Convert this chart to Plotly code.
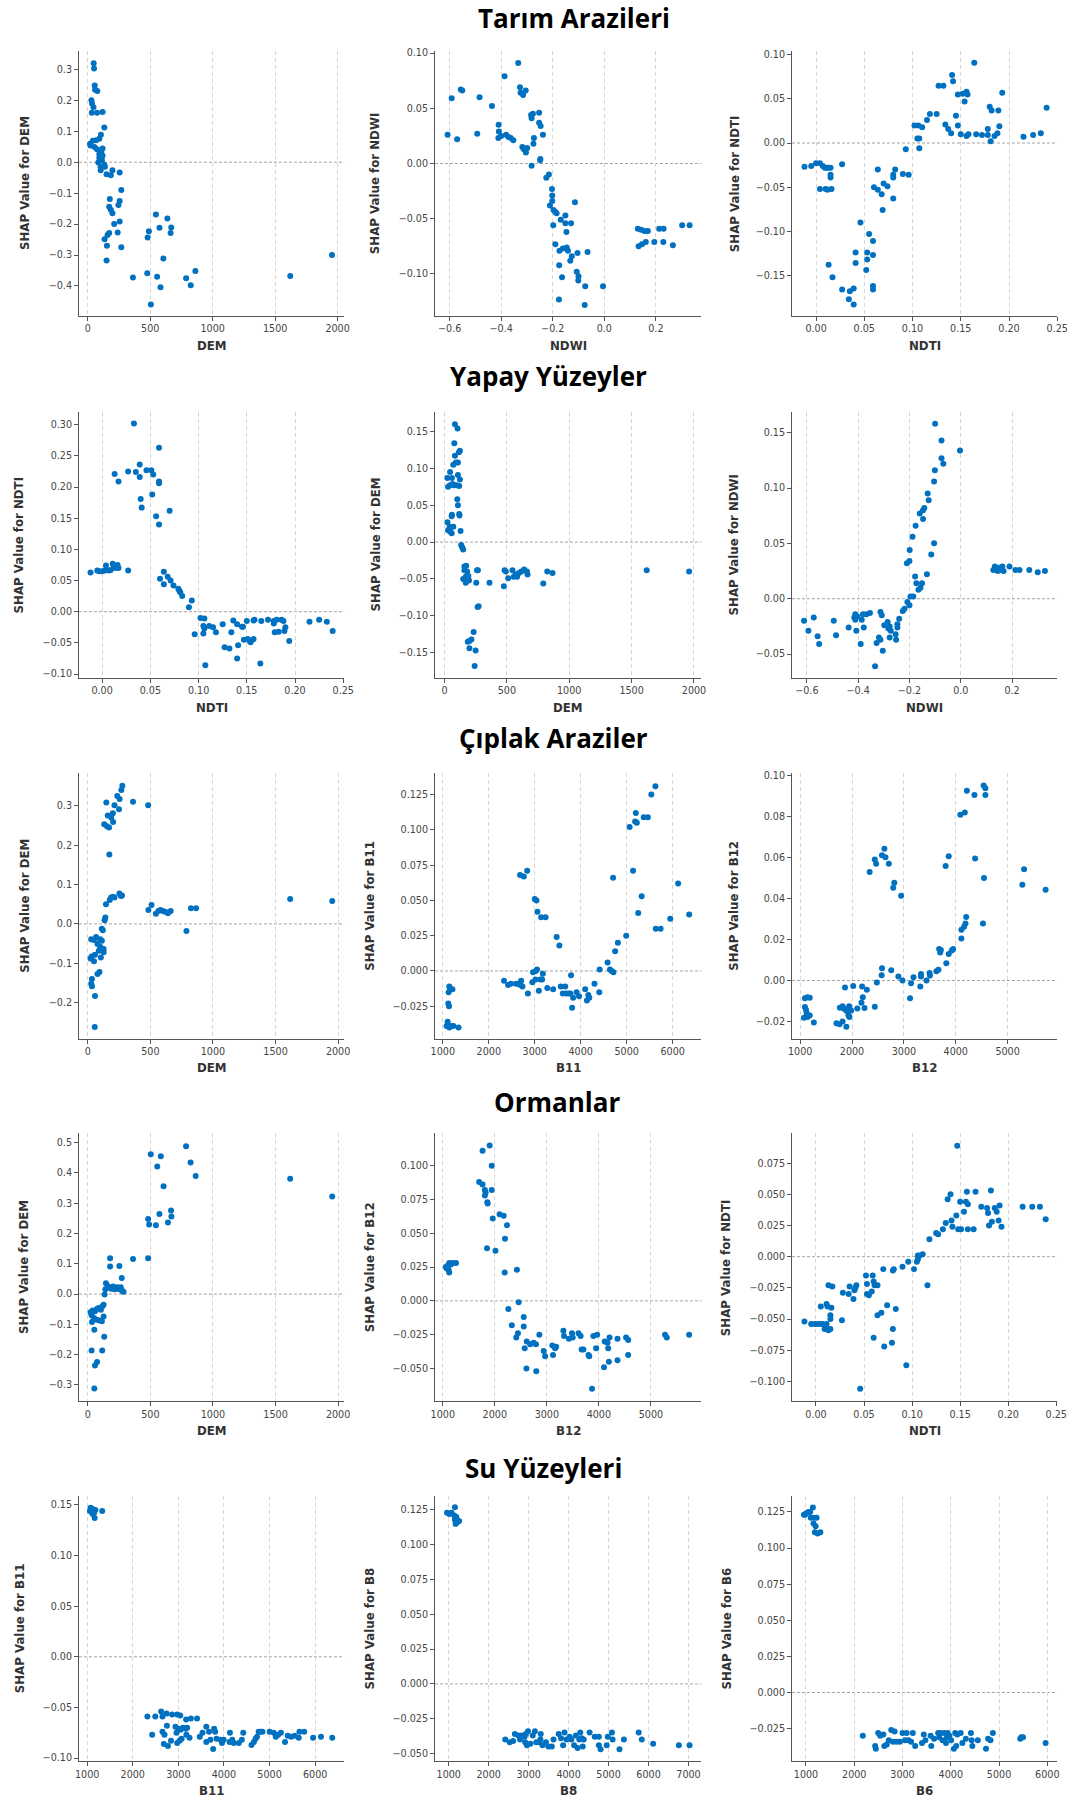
import plotly.graph_objects as go

# ---------------- DATA ----------------
# Row 1: Tarım Arazileri
tarim_dem_x = [47, 50, 55, 58, 76, 29, 34, 45, 32, 74,
               118, 132, 105, 92, 66, 40, 18, 21, 53, 74,
               118, 108, 92, 118, 92, 113, 84, 132, 103, 137,
               103, 150, 184, 197, 255, 268, 255, 245, 176, 171,
               184, 197, 211, 255, 171, 158, 239, 134, 153, 268,
               150, 361, 545, 637, 574, 668, 663, 489, 479, 605,
               476, 555, 582, 505, 787, 861, 824, 1621, 1955]
tarim_dem_shap = [0.32, 0.303, 0.248, 0.234, 0.23, 0.2, 0.19, 0.178, 0.16, 0.16,
                  0.162, 0.112, 0.089, 0.076, 0.071, 0.069, 0.06, 0.054, 0.049, 0.042,
                  0.044, 0.033, 0.026, 0.021, 0.014, 0.006, -0.001, -0.008, -0.016, -0.015,
                  -0.026, -0.039, -0.042, -0.026, -0.033, -0.09, -0.125, -0.138, -0.119, -0.144,
                  -0.154, -0.165, -0.2, -0.192, -0.229, -0.235, -0.227, -0.249, -0.27, -0.275,
                  -0.318, -0.373, -0.169, -0.182, -0.212, -0.211, -0.229, -0.223, -0.243, -0.311,
                  -0.359, -0.37, -0.404, -0.46, -0.375, -0.352, -0.398, -0.368, -0.3]

tarim_ndwi_x = [-0.608, -0.592, -0.571, -0.557, -0.551, -0.493, -0.484, -0.436, -0.41, -0.409,
                -0.411, -0.4, -0.381, -0.372, -0.363, -0.353, -0.387, -0.334, -0.327, -0.325,
                -0.315, -0.305, -0.318, -0.312, -0.299, -0.304, -0.284, -0.277, -0.282, -0.273,
                -0.275, -0.282, -0.253, -0.253, -0.247, -0.238, -0.248, -0.249, -0.225, -0.215,
                -0.203, -0.202, -0.202, -0.211, -0.197, -0.19, -0.185, -0.198, -0.169, -0.151,
                -0.151, -0.147, -0.129, -0.114, -0.19, -0.174, -0.161, -0.146, -0.141, -0.126,
                -0.132, -0.104, -0.065, -0.175, -0.164, -0.107, -0.1, -0.101, -0.176, -0.074,
                -0.076, -0.005, 0.13, 0.143, 0.156, 0.169, 0.133, 0.146, 0.161, 0.194,
                0.213, 0.23, 0.229, 0.266, 0.302, 0.331]
tarim_ndwi_shap = [0.026, 0.059, 0.022, 0.067, 0.066, 0.027, 0.060, 0.052, 0.035, 0.029,
                   0.023, 0.025, 0.026, 0.024, 0.023, 0.021, 0.079, 0.091, 0.069, 0.064,
                   0.062, 0.066, 0.015, 0.013, 0.014, 0.010, 0.044, 0.045, 0.041, 0.023,
                   0.018, -0.002, 0.046, 0.037, 0.034, 0.026, 0.004, 0.003, -0.013, -0.010,
                   -0.023, -0.029, -0.034, -0.038, -0.042, -0.044, -0.045, -0.056, -0.051, -0.047,
                   -0.054, -0.062, -0.054, -0.035, -0.073, -0.079, -0.077, -0.076, -0.079, -0.084,
                   -0.088, -0.081, -0.080, -0.092, -0.103, -0.098, -0.102, -0.106, -0.123, -0.111,
                   -0.128, -0.111, -0.059, -0.060, -0.061, -0.061, -0.075, -0.073, -0.071, -0.071,
                   -0.059, -0.059, -0.071, -0.074, -0.056, -0.056]

tarim_ndti_x = [-0.012, -0.005, 0.0, 0.004, 0.007, 0.009, 0.011, 0.013, 0.015, 0.015,
                0.015, 0.004, 0.01, 0.012, 0.016, 0.027, 0.013, 0.017, 0.027, 0.034,
                0.035, 0.039, 0.039, 0.041, 0.041, 0.046, 0.052, 0.053, 0.053, 0.055,
                0.059, 0.059, 0.059, 0.059, 0.06, 0.064, 0.064, 0.068, 0.069, 0.07,
                0.074, 0.08, 0.08, 0.08, 0.082, 0.09, 0.096, 0.093, 0.102, 0.106,
                0.105, 0.107, 0.107, 0.11, 0.115, 0.118, 0.125, 0.127, 0.132, 0.134,
                0.137, 0.14, 0.141, 0.142, 0.145, 0.147, 0.147, 0.152, 0.154, 0.156,
                0.157, 0.15, 0.156, 0.158, 0.164, 0.166, 0.172, 0.178, 0.178, 0.18,
                0.182, 0.181, 0.185, 0.188, 0.189, 0.19, 0.193, 0.215, 0.225, 0.233,
                0.239]
tarim_ndti_shap = [-0.027, -0.026, -0.023, -0.023, -0.026, -0.028, -0.028, -0.028, -0.028, -0.036,
                   -0.039, -0.052, -0.052, -0.053, -0.052, -0.024, -0.138, -0.152, -0.166, -0.177,
                   -0.168, -0.165, -0.183, -0.136, -0.124, -0.09, -0.144, -0.124, -0.132, -0.103,
                   -0.111, -0.127, -0.162, -0.166, -0.05, -0.053, -0.03, -0.058, -0.076, -0.046,
                   -0.049, -0.036, -0.039, -0.063, -0.03, -0.035, -0.036, -0.007, 0.02, 0.02,
                   0.005, 0.005, -0.006, 0.018, 0.026, 0.033, 0.033, 0.065, 0.065, 0.021,
                   0.016, 0.011, 0.077, 0.07, 0.031, 0.02, 0.055, 0.056, 0.047, 0.058,
                   0.055, 0.01, 0.008, 0.01, 0.091, 0.01, 0.009, 0.016, 0.009, 0.041,
                   0.037, 0.002, 0.008, 0.011, 0.037, 0.019, 0.057, 0.007, 0.009, 0.011,
                   0.04]

# Row 2: Yapay Yüzeyler
yapay_ndti_x = [-0.012, -0.005, -0.003, 0.0, 0.003, 0.004, 0.007, 0.009, 0.011, 0.012,
                0.014, 0.016, 0.017, 0.013, 0.017, 0.027, 0.027, 0.033, 0.035, 0.039,
                0.039, 0.04, 0.041, 0.046, 0.051, 0.053, 0.052, 0.056, 0.059, 0.059,
                0.059, 0.059, 0.07, 0.06, 0.064, 0.064, 0.068, 0.071, 0.074, 0.079,
                0.08, 0.081, 0.083, 0.09, 0.093, 0.096, 0.102, 0.106, 0.105, 0.106,
                0.105, 0.111, 0.115, 0.118, 0.107, 0.125, 0.127, 0.132, 0.134, 0.136,
                0.14, 0.14, 0.141, 0.145, 0.146, 0.147, 0.15, 0.151, 0.153, 0.154,
                0.157, 0.158, 0.157, 0.164, 0.165, 0.172, 0.178, 0.178, 0.179, 0.181,
                0.183, 0.186, 0.188, 0.189, 0.19, 0.194, 0.215, 0.225, 0.233, 0.239]
yapay_ndti_shap = [0.063, 0.066, 0.065, 0.065, 0.066, 0.074, 0.066, 0.067, 0.077, 0.074,
                   0.07, 0.075, 0.07, 0.221, 0.209, 0.066, 0.225, 0.302, 0.224, 0.236,
                   0.216, 0.181, 0.167, 0.227, 0.227, 0.22, 0.188, 0.153, 0.209, 0.206,
                   0.263, 0.14, 0.162, 0.053, 0.064, 0.044, 0.056, 0.05, 0.042, 0.037,
                   0.034, 0.031, 0.025, 0.007, 0.018, -0.036, -0.01, -0.011, -0.023, -0.027,
                   -0.035, -0.023, -0.025, -0.033, -0.086, -0.02, -0.057, -0.059, -0.033, -0.014,
                   -0.02, -0.075, -0.054, -0.024, -0.024, -0.045, -0.015, -0.044, -0.047, -0.049,
                   -0.014, -0.013, -0.044, -0.083, -0.015, -0.013, -0.015, -0.019, -0.033, -0.013,
                   -0.032, -0.013, -0.015, -0.031, -0.025, -0.047, -0.016, -0.013, -0.016, -0.031]

yapay_dem_x = [84, 105, 79, 84, 116, 124, 71, 92, 108, 108,
               124, 24, 45, 45, 29, 60, 76, 66, 97, 118,
               103, 108, 118, 121, 60, 58, 24, 42, 71, 29,
               47, 58, 129, 134, 142, 150, 160, 174, 160, 182,
               171, 192, 150, 171, 197, 261, 268, 255, 266, 274,
               187, 200, 216, 200, 234, 250, 242, 361, 476, 482,
               492, 511, 545, 555, 571, 582, 597, 616, 639, 661,
               666, 792, 824, 866, 1621, 1961]
yapay_dem_shap = [0.16, 0.154, 0.134, 0.117, 0.122, 0.124, 0.105, 0.108, 0.108, 0.091,
                  0.085, 0.087, 0.095, 0.077, 0.075, 0.087, 0.077, 0.079, 0.077, 0.076,
                  0.058, 0.05, 0.038, 0.036, 0.037, 0.035, 0.027, 0.021, 0.021, 0.016,
                  0.014, 0.012, 0.015, -0.004, -0.007, -0.01, -0.033, -0.032, -0.038, -0.04,
                  -0.047, -0.046, -0.05, -0.055, -0.052, -0.038, -0.038, -0.055, -0.088, -0.087,
                  -0.135, -0.134, -0.132, -0.144, -0.122, -0.147, -0.168, -0.055, -0.06, -0.038,
                  -0.04, -0.049, -0.038, -0.047, -0.044, -0.047, -0.042, -0.04, -0.037, -0.04,
                  -0.044, -0.056, -0.04, -0.042, -0.038, -0.04]

yapay_ndwi_x = [-0.611, -0.594, -0.573, -0.558, -0.552, -0.495, -0.486, -0.437, -0.411, -0.415,
                -0.411, -0.407, -0.403, -0.386, -0.381, -0.378, -0.39, -0.368, -0.354, -0.334,
                -0.328, -0.319, -0.313, -0.308, -0.313, -0.304, -0.298, -0.285, -0.282, -0.277,
                -0.277, -0.273, -0.254, -0.252, -0.247, -0.247, -0.24, -0.226, -0.219, -0.208,
                -0.2, -0.196, -0.185, -0.21, -0.2, -0.199, -0.188, -0.176, -0.178, -0.173,
                -0.165, -0.157, -0.151, -0.16, -0.147, -0.142, -0.147, -0.132, -0.129, -0.125,
                -0.115, -0.104, -0.104, -0.101, -0.1, -0.075, -0.075, -0.068, -0.003, 0.127,
                0.133, 0.139, 0.144, 0.15, 0.157, 0.162, 0.167, 0.19, 0.213, 0.229,
                0.267, 0.3, 0.328]
yapay_ndwi_shap = [-0.02, -0.029, -0.017, -0.034, -0.041, -0.02, -0.033, -0.026, -0.014, -0.017,
                   -0.019, -0.029, -0.016, -0.019, -0.014, -0.026, -0.041, -0.014, -0.013, -0.061,
                   -0.04, -0.035, -0.012, -0.015, -0.037, -0.047, -0.024, -0.021, -0.027, -0.025,
                   -0.035, -0.029, -0.032, -0.037, -0.026, -0.023, -0.018, -0.011, -0.009, -0.003,
                   -0.006, 0.002, 0.002, 0.032, 0.034, 0.044, 0.056, 0.066, 0.02, 0.014,
                   0.008, 0.01, 0.014, 0.077, 0.08, 0.082, 0.072, 0.022, 0.095, 0.089,
                   0.04, 0.05, 0.106, 0.116, 0.158, 0.143, 0.127, 0.122, 0.134, 0.026,
                   0.029, 0.027, 0.025, 0.028, 0.026, 0.029, 0.025, 0.029, 0.026, 0.026,
                   0.026, 0.024, 0.025]

# Row 3: Çıplak Araziler
ciplak_dem_x = [276, 268, 235, 254, 148, 213, 361, 482, 249, 200,
                159, 186, 202, 131, 153, 170, 172, 145, 175, 186,
                202, 213, 252, 265, 273, 134, 140, 112, 120, 27,
                49, 66, 77, 98, 112, 98, 115, 88, 126, 57,
                30, 22, 49, 104, 126, 77, 93, 33, 27, 33,
                57, 55, 484, 509, 544, 564, 580, 599, 618, 640,
                662, 788, 824, 865, 1617, 1953]
ciplak_dem_shap = [0.351, 0.34, 0.325, 0.317, 0.308, 0.301, 0.31, 0.301, 0.291, 0.281,
                   0.275, 0.27, 0.259, 0.253, 0.248, 0.245, 0.176, 0.05, 0.061, 0.067,
                   0.069, 0.067, 0.077, 0.071, 0.072, 0.009, 0.016, -0.012, -0.016, -0.039,
                   -0.041, -0.033, -0.051, -0.039, -0.043, -0.058, -0.064, -0.068, -0.072, -0.078,
                   -0.083, -0.088, -0.095, -0.085, -0.064, -0.127, -0.122, -0.14, -0.152, -0.158,
                   -0.183, -0.262, 0.035, 0.048, 0.026, 0.033, 0.035, 0.033, 0.031, 0.027,
                   0.033, -0.018, 0.04, 0.04, 0.063, 0.058]

ciplak_b11_x = [1141, 1164, 1208, 1126, 1119, 1134, 1104, 1126, 1141, 1178,
                1230, 1342, 1082, 2331, 2420, 2480, 2591, 2643, 2703, 2732,
                2688, 2851, 2680, 2762, 2836, 2948, 2963, 3022, 3000, 3037,
                3059, 3015, 3089, 3119, 3139, 3236, 3476, 3536, 3049, 3176,
                3161, 3273, 3401, 3566, 3610, 3663, 3685, 3738, 3790, 3775,
                3835, 3813, 3910, 3963, 4097, 4135, 4165, 4187, 4300, 4404,
                4412, 4584, 4636, 4674, 4712, 4749, 4809, 4989, 4704, 5064,
                5139, 5199, 5184, 5221, 5251, 5326, 5371, 5461, 5536, 5625,
                5633, 5738, 5948, 6120, 6360]
ciplak_b11_shap = [-0.011, -0.013, -0.013, -0.015, -0.023, -0.025, -0.036, -0.039, -0.04, -0.039,
                   -0.039, -0.04, -0.039, -0.007, -0.01, -0.009, -0.009, -0.009, -0.007, -0.011,
                   -0.01, -0.016, 0.068, 0.067, 0.071, -0.008, -0.001, 0.0, 0.051, 0.05,
                   0.042, -0.006, -0.014, -0.006, 0.038, 0.038, 0.024, 0.018, 0.001, -0.002,
                   -0.006, -0.012, -0.013, -0.011, -0.016, -0.011, -0.016, -0.016, -0.003, -0.016,
                   -0.019, -0.026, -0.015, -0.018, -0.013, -0.021, -0.017, -0.019, -0.009, -0.015,
                   0.001, 0.006, 0.001, 0.0, -0.001, 0.014, 0.02, 0.025, 0.066, 0.102,
                   0.071, 0.112, 0.106, 0.105, 0.041, 0.053, 0.109, 0.109, 0.125, 0.131,
                   0.03, 0.03, 0.037, 0.062, 0.04]

ciplak_b12_x = [1092, 1139, 1185, 1092, 1112, 1073, 1139, 1185, 1125, 1264,
                1700, 1759, 1818, 1891, 1766, 1818, 1851, 1898, 1944, 1931,
                1950, 1983, 1865, 2023, 2102, 2182, 2208, 2195, 2241, 2287,
                2439, 2479, 2340, 2439, 2465, 2578, 2624, 2644, 2710, 2815,
                2795, 2947, 2578, 2571, 2756, 2894, 2974, 3119, 3139, 3185,
                3317, 3330, 3330, 3436, 3495, 3502, 3627, 3667, 3680, 3700,
                3713, 3818, 3865, 3924, 3950, 3805, 3865, 4089, 4175, 4109,
                4109, 4162, 4188, 4201, 4215, 4360, 4373, 4525, 4538, 4571,
                4571, 4545, 5284, 5317, 5733]
ciplak_b12_shap = [-0.0086, -0.0081, -0.0084, -0.0129, -0.0142, -0.0181, -0.0178, -0.017, -0.0158, -0.0205,
                   -0.0209, -0.0213, -0.02, -0.0226, -0.0133, -0.0126, -0.0139, -0.0149, -0.0126, -0.017,
                   -0.0178, -0.0146, -0.0034, -0.0027, -0.0137, -0.0108, -0.0081, -0.0029, -0.0134, -0.0045,
                   -0.0128, -0.001, 0.0529, 0.059, 0.0569, 0.0611, 0.0643, 0.0601, 0.0569, 0.0477,
                   0.0453, 0.0414, 0.006, 0.0026, 0.005, 0.0019, 0.0, -0.0086, -0.0013, 0.0016,
                   -0.0029, 0.0019, 0.0032, 0.0, 0.0037, 0.0024, 0.0045, 0.0052, 0.0154, 0.0137,
                   0.0149, 0.0084, 0.0129, 0.0146, 0.0154, 0.0558, 0.0606, 0.0808, 0.082, 0.0205,
                   0.0247, 0.0262, 0.0278, 0.031, 0.0925, 0.0905, 0.0595, 0.0278, 0.0951, 0.0938,
                   0.0905, 0.05, 0.0467, 0.0543, 0.0443]

# Row 4: Ormanlar
orman_dem_x = [785, 503, 583, 821, 555, 862, 605, 1617, 1953, 482,
               490, 572, 544, 665, 668, 640, 361, 482, 178, 178,
               252, 271, 145, 159, 140, 167, 186, 202, 213, 235,
               249, 263, 276, 285, 134, 126, 115, 104, 85, 71,
               57, 38, 22, 30, 49, 71, 93, 112, 126, 33,
               52, 131, 30, 115, 74, 57, 52]
orman_dem_shap = [0.488, 0.462, 0.455, 0.434, 0.421, 0.39, 0.356, 0.381, 0.322, 0.248,
                  0.23, 0.264, 0.227, 0.276, 0.256, 0.236, 0.116, 0.118, 0.118, 0.091,
                  0.093, 0.053, 0.036, 0.027, 0.016, 0.023, 0.018, 0.025, 0.016, 0.023,
                  0.016, 0.023, 0.01, 0.008, -0.001, -0.035, -0.041, -0.052, -0.046, -0.049,
                  -0.057, -0.054, -0.06, -0.07, -0.079, -0.085, -0.087, -0.09, -0.074, -0.092,
                  -0.118, -0.141, -0.186, -0.186, -0.224, -0.236, -0.312]

orman_b12_x = [1059, 1092, 1124, 1157, 1190, 1255, 1111, 1124, 1078, 1699,
               1765, 1765, 1902, 1941, 1810, 1824, 1810, 1856, 1863, 1941,
               1961, 1850, 2013, 2092, 2170, 2235, 2196, 2190, 2425, 2458,
               2261, 2327, 2556, 2556, 2444, 2412, 2614, 2680, 2745, 2791,
               2575, 2608, 2797, 2856, 2940, 2967, 3106, 3159, 3179, 3119,
               3318, 3331, 3424, 3483, 3497, 3609, 3649, 3669, 3702, 3801,
               3815, 3868, 3894, 3947, 3967, 4113, 4099, 4166, 4179, 4192,
               4205, 4358, 4358, 4523, 4563, 4563, 5272, 5305, 5735]
orman_b12_shap = [0.025, 0.026, 0.028, 0.027, 0.028, 0.028, 0.023, 0.021, 0.024, 0.088,
                  0.086, 0.111, 0.115, 0.1, 0.082, 0.08, 0.078, 0.073, 0.072, 0.082,
                  0.061, 0.039, 0.037, 0.064, 0.063, 0.056, 0.046, 0.021, 0.023, -0.001,
                  -0.006, -0.018, -0.012, -0.019, -0.024, -0.027, -0.03, -0.032, -0.031, -0.032,
                  -0.035, -0.05, -0.052, -0.025, -0.037, -0.041, -0.033, -0.035, -0.034, -0.04,
                  -0.022, -0.026, -0.028, -0.024, -0.027, -0.024, -0.026, -0.036, -0.036, -0.04,
                  -0.041, -0.065, -0.026, -0.035, -0.025, -0.03, -0.049, -0.031, -0.035, -0.045,
                  -0.027, -0.028, -0.044, -0.027, -0.029, -0.04, -0.025, -0.027, -0.025]

orman_ndti_x = [-0.012, -0.005, -0.001, 0.002, 0.005, 0.007, 0.009, 0.01, 0.011, 0.012,
                0.013, 0.015, 0.005, 0.011, 0.012, 0.016, 0.015, 0.015, 0.013, 0.017,
                0.027, 0.028, 0.034, 0.035, 0.039, 0.04, 0.041, 0.042, 0.046, 0.052,
                0.053, 0.053, 0.055, 0.058, 0.059, 0.06, 0.061, 0.064, 0.06, 0.064,
                0.068, 0.07, 0.071, 0.074, 0.08, 0.081, 0.08, 0.079, 0.083, 0.09,
                0.094, 0.096, 0.102, 0.105, 0.106, 0.106, 0.108, 0.111, 0.116, 0.118,
                0.125, 0.127, 0.132, 0.135, 0.137, 0.14, 0.141, 0.142, 0.146, 0.147,
                0.148, 0.15, 0.151, 0.154, 0.156, 0.157, 0.158, 0.158, 0.164, 0.166,
                0.172, 0.178, 0.179, 0.18, 0.182, 0.183, 0.186, 0.188, 0.19, 0.191,
                0.193, 0.215, 0.225, 0.233, 0.239]
orman_ndti_shap = [-0.052, -0.054, -0.054, -0.054, -0.054, -0.054, -0.058, -0.055, -0.054, -0.058,
                   -0.059, -0.058, -0.04, -0.038, -0.04, -0.041, -0.047, -0.05, -0.023, -0.024,
                   -0.051, -0.029, -0.03, -0.024, -0.034, -0.027, -0.025, -0.023, -0.106, -0.015,
                   -0.022, -0.03, -0.031, -0.028, -0.015, -0.02, -0.023, -0.023, -0.065, -0.047,
                   -0.045, -0.01, -0.072, -0.039, -0.011, -0.01, -0.058, -0.069, -0.042, -0.008,
                   -0.087, -0.004, -0.01, -0.004, -0.002, 0.001, 0.001, 0.002, -0.023, 0.014,
                   0.019, 0.018, 0.022, 0.027, 0.046, 0.05, 0.029, 0.024, 0.033, 0.089,
                   0.022, 0.044, 0.022, 0.036, 0.044, 0.052, 0.042, 0.022, 0.022, 0.052,
                   0.04, 0.039, 0.035, 0.025, 0.053, 0.028, 0.039, 0.036, 0.029, 0.041,
                   0.024, 0.04, 0.04, 0.04, 0.03]

# Row 5: Su Yüzeyleri
su_b11_x = [1075, 1120, 1180, 1098, 1150, 1060, 1165, 1330, 1120, 2321,
            2426, 2494, 2622, 2652, 2742, 2749, 2652, 2697, 2682, 2772,
            2839, 2862, 2975, 3042, 2937, 2960, 3005, 3050, 3102, 3162,
            3192, 2975, 3027, 3072, 3170, 3275, 3410, 3177, 3245, 3470,
            3530, 3613, 3673, 3613, 3703, 3763, 3785, 3808, 3838, 3928,
            3958, 3995, 4131, 4123, 4183, 4213, 4326, 4393, 4423, 4604,
            4657, 4694, 4724, 4761, 4799, 4844, 5002, 5092, 5137, 5189,
            5249, 5339, 5399, 5474, 5550, 5640, 5655, 5760, 5955, 6128,
            6375]
su_b11_shap = [0.147, 0.146, 0.145, 0.143, 0.142, 0.144, 0.137, 0.144, 0.141, -0.059,
               -0.077, -0.059, -0.054, -0.059, -0.056, -0.068, -0.074, -0.077, -0.086, -0.088,
               -0.083, -0.057, -0.057, -0.058, -0.069, -0.075, -0.071, -0.072, -0.07, -0.071,
               -0.07, -0.085, -0.083, -0.081, -0.062, -0.061, -0.061, -0.077, -0.08, -0.079,
               -0.075, -0.069, -0.074, -0.084, -0.082, -0.091, -0.071, -0.074, -0.081, -0.082,
               -0.085, -0.082, -0.075, -0.084, -0.082, -0.085, -0.085, -0.082, -0.075, -0.087,
               -0.084, -0.081, -0.079, -0.074, -0.074, -0.074, -0.074, -0.075, -0.079, -0.077,
               -0.075, -0.084, -0.078, -0.079, -0.078, -0.08, -0.074, -0.074, -0.08, -0.079,
               -0.08]

su_b8_x = [957, 1017, 1069, 1155, 1138, 1190, 1155, 1207, 1259, 1172,
           2414, 2526, 2612, 2655, 2741, 2784, 2828, 2897, 2931, 2983,
           2914, 2957, 3043, 3103, 3155, 3190, 3259, 3302, 3295, 3347,
           3433, 3493, 3579, 3622, 3751, 3811, 3862, 3897, 3948, 4026,
           4069, 4138, 4181, 4224, 4267, 4292, 4327, 4353, 4378, 4525,
           4654, 4757, 4757, 4800, 4954, 4980, 5083, 5101, 5273, 5384,
           5754, 5831, 6115, 6760, 7027]
su_b8_shap = [0.123, 0.122, 0.123, 0.127, 0.121, 0.12, 0.118, 0.116, 0.117, 0.115,
              -0.04, -0.042, -0.041, -0.036, -0.037, -0.04, -0.037, -0.038, -0.036, -0.034,
              -0.042, -0.044, -0.043, -0.037, -0.034, -0.042, -0.042, -0.036, -0.04, -0.044,
              -0.042, -0.045, -0.045, -0.04, -0.036, -0.039, -0.044, -0.035, -0.04, -0.038,
              -0.04, -0.044, -0.037, -0.046, -0.04, -0.035, -0.039, -0.045, -0.04, -0.035,
              -0.038, -0.038, -0.044, -0.047, -0.044, -0.038, -0.035, -0.04, -0.047, -0.04,
              -0.035, -0.04, -0.043, -0.044, -0.044]

su_b6_x = [957, 1007, 1050, 1085, 979, 1142, 1099, 1170, 1220, 1156,
           1199, 1184, 1241, 1298, 2177, 2433, 2447, 2496, 2539, 2603,
           2624, 2674, 2716, 2766, 2801, 2837, 2872, 2943, 3000, 3050,
           3085, 3121, 3177, 3213, 3262, 3404, 3440, 3475, 3582, 3596,
           3652, 3738, 3759, 3794, 3830, 3865, 3901, 3922, 3936, 3972,
           4007, 4064, 4092, 4113, 4135, 4206, 4241, 4312, 4418, 4447,
           4433, 4560, 4730, 4773, 4823, 4872, 5440, 5461, 5496, 5965]
su_b6_shap = [0.123, 0.124, 0.125, 0.125, 0.123, 0.128, 0.121, 0.121, 0.121, 0.117,
              0.115, 0.111, 0.11, 0.111, -0.03, -0.037, -0.039, -0.028, -0.03, -0.029,
              -0.037, -0.036, -0.033, -0.026, -0.034, -0.027, -0.034, -0.034, -0.028, -0.033,
              -0.028, -0.033, -0.034, -0.028, -0.037, -0.035, -0.029, -0.033, -0.03, -0.037,
              -0.032, -0.028, -0.031, -0.028, -0.033, -0.028, -0.035, -0.031, -0.028, -0.03,
              -0.033, -0.039, -0.028, -0.037, -0.029, -0.028, -0.035, -0.032, -0.028, -0.037,
              -0.033, -0.033, -0.039, -0.032, -0.033, -0.028, -0.032, -0.031, -0.031, -0.035]

# Tick values
dem_ticks = [0, 500, 1000, 1500, 2000]
ndwi_ticks = [-0.6, -0.4, -0.2, 0.0, 0.2]
ndti_ticks = [0.0, 0.05, 0.10, 0.15, 0.20, 0.25]
band5_ticks = [1000, 2000, 3000, 4000, 5000]
band6_ticks = [1000, 2000, 3000, 4000, 5000, 6000]
band7_ticks = [1000, 2000, 3000, 4000, 5000, 6000, 7000]

y_r1c1 = [-0.4, -0.3, -0.2, -0.1, 0.0, 0.1, 0.2, 0.3]
y_r1c2 = [-0.10, -0.05, 0.0, 0.05, 0.10]
y_r1c3 = [-0.15, -0.10, -0.05, 0.0, 0.05, 0.10]
y_r2c1 = [-0.10, -0.05, 0.0, 0.05, 0.10, 0.15, 0.20, 0.25, 0.30]
y_r2c2 = [-0.15, -0.10, -0.05, 0.0, 0.05, 0.10, 0.15]
y_r2c3 = [-0.05, 0.0, 0.05, 0.10, 0.15]
y_r3c1 = [-0.2, -0.1, 0.0, 0.1, 0.2, 0.3]
y_r3c2 = [-0.025, 0.0, 0.025, 0.05, 0.075, 0.10, 0.125]
y_r3c3 = [-0.02, 0.0, 0.02, 0.04, 0.06, 0.08, 0.10]
y_r4c1 = [-0.3, -0.2, -0.1, 0.0, 0.1, 0.2, 0.3, 0.4, 0.5]
y_r4c2 = [-0.05, -0.025, 0.0, 0.025, 0.05, 0.075, 0.10]
y_r4c3 = [-0.10, -0.075, -0.05, -0.025, 0.0, 0.025, 0.05, 0.075]
y_r5c1 = [-0.10, -0.05, 0.0, 0.05, 0.10, 0.15]
y_r5c2 = [-0.05, -0.025, 0.0, 0.025, 0.05, 0.075, 0.10, 0.125]
y_r5c3 = [-0.025, 0.0, 0.025, 0.05, 0.075, 0.10, 0.125]

section_titles = ["Tarım Arazileri", "Yapay Yüzeyler", "Çıplak Araziler", "Ormanlar", "Su Yüzeyleri"]

# ---------------- LAYOUT / STYLE ----------------
W, H = 1085, 1805
COLS = [(76, 345), (437, 707), (799, 1068)]
ROWS = [(47, 313), (409, 676), (772, 1038), (1133, 1402), (1497, 1763)]
TITLE_POS = [(578, 14), (552, 373), (557, 736), (561, 1102), (547, 1469)]
DOT = "#0070c0"

def fmt(v, d):
    if abs(v) < 1e-12:
        v = 0.0
    return f"{v:.{d}f}".replace("-", "\u2212")

# (row, col, x, y, feature, xticks, xdec, yticks, ydec, xrange, yrange, ylabel_x_px)
panels = [
    (0, 0, tarim_dem_x, tarim_dem_shap, "DEM", dem_ticks, 0, y_r1c1, 1, [-71, 2053], [-0.497, 0.36], 22),
    (0, 1, tarim_ndwi_x, tarim_ndwi_shap, "NDWI", ndwi_ticks, 1, y_r1c2, 2, [-0.657, 0.376], [-0.138, 0.102], 377),
    (0, 2, tarim_ndti_x, tarim_ndti_shap, "NDTI", ndti_ticks, 2, y_r1c3, 2, [-0.025, 0.25], [-0.196, 0.1045], 742),
    (1, 0, yapay_ndti_x, yapay_ndti_shap, "NDTI", ndti_ticks, 2, y_r2c1, 2, [-0.024, 0.251], [-0.106, 0.321], 15),
    (1, 1, yapay_dem_x, yapay_dem_shap, "DEM", dem_ticks, 0, y_r2c2, 2, [-76, 2058], [-0.184, 0.177], 377),
    (1, 2, yapay_ndwi_x, yapay_ndwi_shap, "NDWI", ndwi_ticks, 1, y_r2c3, 2, [-0.658, 0.376], [-0.0714, 0.169], 740),
    (2, 0, ciplak_dem_x, ciplak_dem_shap, "DEM", dem_ticks, 0, y_r3c1, 1, [-71, 2049], [-0.291, 0.382], 21),
    (2, 1, ciplak_b11_x, ciplak_b11_shap, "B11", band6_ticks, 0, y_r3c2, 3, [829, 6622], [-0.0479, 0.14], 371),
    (2, 2, ciplak_b12_x, ciplak_b12_shap, "B12", band5_ticks, 0, y_r3c3, 2, [842, 5957], [-0.0283, 0.101], 740),
    (3, 0, orman_dem_x, orman_dem_shap, "DEM", dem_ticks, 0, y_r4c1, 1, [-71, 2049], [-0.354, 0.531], 21),
    (3, 1, orman_b12_x, orman_b12_shap, "B12", band5_ticks, 0, y_r4c2, 3, [850, 5967], [-0.0743, 0.124], 371),
    (3, 2, orman_ndti_x, orman_ndti_shap, "NDTI", ndti_ticks, 2, y_r4c3, 3, [-0.025, 0.251], [-0.116, 0.099], 732),
    (4, 0, su_b11_x, su_b11_shap, "B11", band6_ticks, 0, y_r5c1, 2, [820, 6638], [-0.103, 0.1587], 16),
    (4, 1, su_b8_x, su_b8_shap, "B8", band7_ticks, 0, y_r5c2, 3, [655, 7319], [-0.0555, 0.135], 371),
    (4, 2, su_b6_x, su_b6_shap, "B6", band6_ticks, 0, y_r5c3, 3, [709, 6206], [-0.0475, 0.136], 733),
]

fig = go.Figure()
layout = {}
shapes = []
annotations = []

tick_font = dict(family="DejaVu Sans", size=9.6, color="#444444")
lab_font = dict(family="DejaVu Sans", size=11.8, color="#333333")

for i, (r, c, xs, ys, feat, xt, xd, yt, yd, xr, yr, ylx) in enumerate(panels):
    assert len(xs) == len(ys), feat
    n = i + 1
    sfx = "" if n == 1 else str(n)
    xa, ya = "x" + sfx, "y" + sfx
    fig.add_trace(go.Scatter(x=xs, y=ys, xaxis=xa, yaxis=ya, mode="markers",
                             marker=dict(size=6, color=DOT, line=dict(width=0)),
                             hoverinfo="skip", showlegend=False))
    x0, x1 = COLS[c]
    y0, y1 = ROWS[r]
    layout["xaxis" + sfx] = dict(
        domain=[x0 / W, x1 / W], anchor=ya, range=xr,
        tickmode="array", tickvals=xt, ticktext=[fmt(v, xd) for v in xt],
        showgrid=True, gridcolor="#d6d6d6", gridwidth=0.8, griddash="4px,3px",
        zeroline=False, showline=True, linecolor="#555555", linewidth=1,
        ticks="outside", ticklen=4, tickwidth=1, tickcolor="#555555",
        tickfont=tick_font, fixedrange=True)
    layout["yaxis" + sfx] = dict(
        domain=[1 - y1 / H, 1 - y0 / H], anchor=xa, range=yr,
        tickmode="array", tickvals=yt, ticktext=[fmt(v, yd) for v in yt],
        showgrid=False, zeroline=False, showline=True, linecolor="#555555", linewidth=1,
        ticks="outside", ticklen=4, tickwidth=1, tickcolor="#555555",
        tickfont=tick_font, fixedrange=True)
    shapes.append(dict(type="line", xref=xa + " domain", x0=0, x1=1, yref=ya, y0=0, y1=0,
                       line=dict(color="#8a8a8a", width=0.8, dash="3px,2px"), layer="below"))
    annotations.append(dict(text="<b>" + feat + "</b>", xref="paper", yref="paper",
                            x=(x0 + x1) / 2 / W, y=1 - (y1 + 30) / H,
                            xanchor="center", yanchor="middle", showarrow=False, font=lab_font))
    annotations.append(dict(text="<b>SHAP Value for " + feat + "</b>", xref="paper", yref="paper",
                            x=ylx / W, y=1 - (y0 + y1) / 2 / H, textangle=-90,
                            xanchor="center", yanchor="middle", showarrow=False, font=lab_font))

for t, (tx, ty) in zip(section_titles, TITLE_POS):
    annotations.append(dict(text="<b>" + t + "</b>", xref="paper", yref="paper",
                            x=tx / W, y=1 - ty / H, xanchor="center", yanchor="middle",
                            showarrow=False, font=dict(family="Open Sans", size=26, color="#000000")))

fig.update_layout(width=W, height=H, margin=dict(l=0, r=0, t=0, b=0),
                  paper_bgcolor="white", plot_bgcolor="white", showlegend=False,
                  shapes=shapes, annotations=annotations, **layout)

fig.write_html("out.html", config={"displayModeBar": False})
